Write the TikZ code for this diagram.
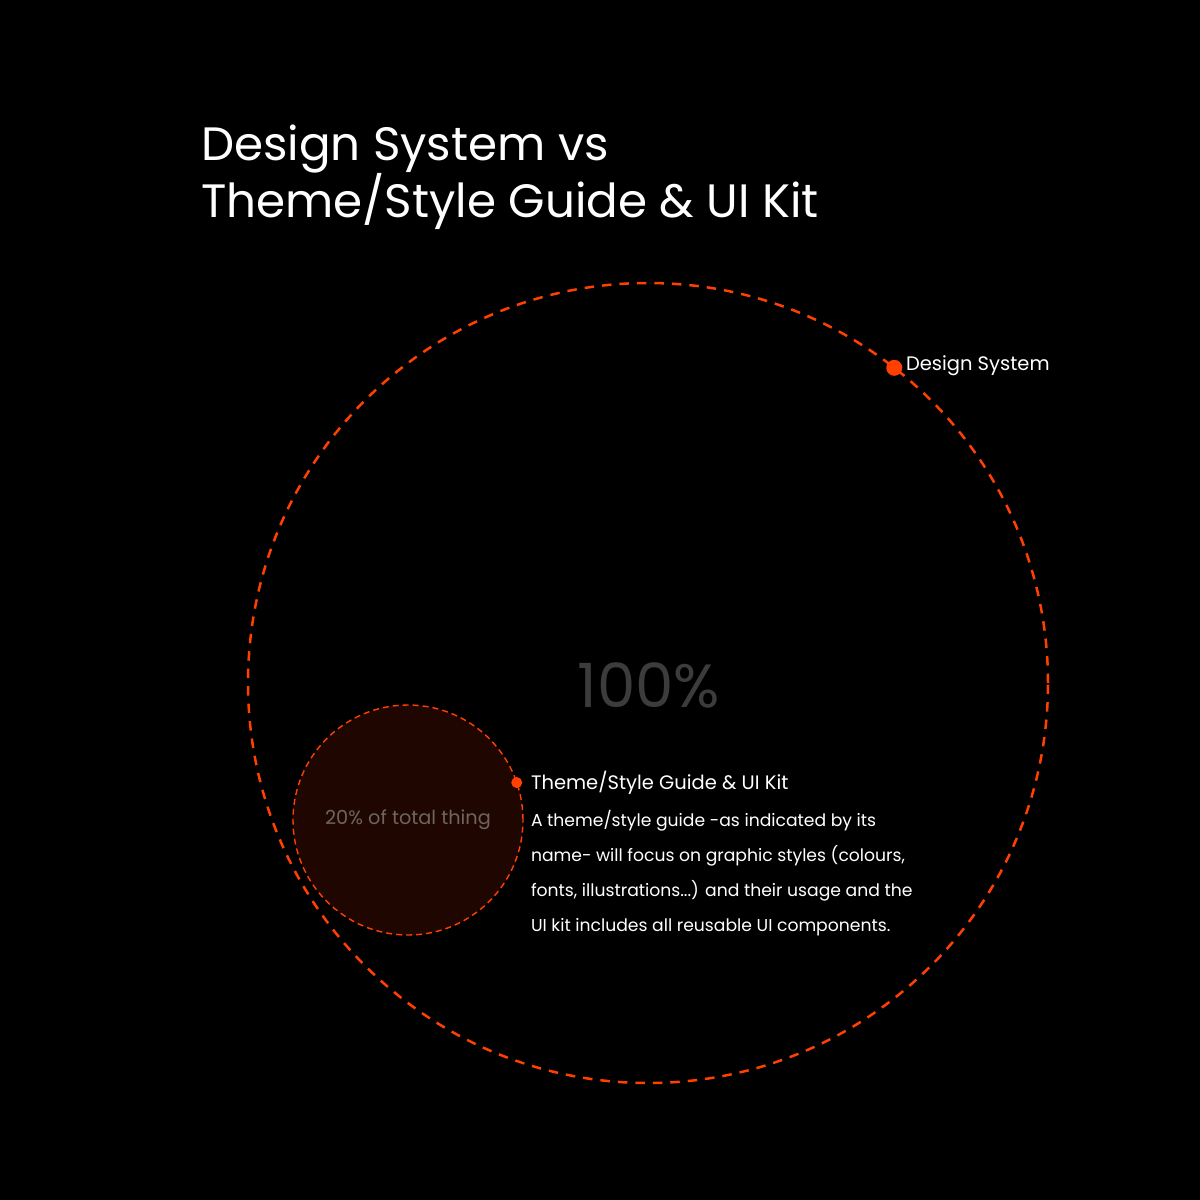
\documentclass[tikz,border=0pt]{standalone}
\usepackage{fontspec}
\setmainfont{Poppins}
\definecolor{accent}{HTML}{FF4000}
\definecolor{innerfill}{HTML}{200600}
\definecolor{bigpct}{HTML}{3C3C3C}
\definecolor{smallpct}{HTML}{6E6460}
\begin{document}
\begin{tikzpicture}[x=1pt,y=1pt,
  every node/.style={inner sep=0pt,outer sep=0pt},
  ring/.style={circle,draw=accent,dash pattern=on 9.5pt off 8pt,line width=2.5pt},
  innerring/.style={circle,draw=accent,fill=innerfill,dash pattern=on 6pt off 4pt,line width=1.4pt},
  dot/.style={circle,fill=accent},
  title/.style={anchor=base west,text=white,font=\fontsize{46.8}{50}\selectfont},
  label/.style={anchor=base west,text=white,font=\fontsize{19.5}{22}\selectfont},
  para/.style={anchor=base west,text=white,font=\fontsize{17.2}{20}\selectfont}]
% canvas
\fill[black] (0,0) rectangle (1200,-1200);
\useasboundingbox (0,0) rectangle (1200,-1200);
% heading
\node[title] (t1) at (201,-160) {Design System vs};
\node[title] (t2) at (201,-217) {Theme/Style Guide \& UI Kit};
% outer ring: the whole design system
\node[ring,minimum size=800pt] (ds) at (648,-683) {};
\node[text=bigpct,font=\fontsize{61}{64}\selectfont] (pct) at (649,-685) {100\%};
% inner disc: theme/style guide and UI kit
\node[innerring,minimum size=230pt] (ui) at (408,-820) {};
\node[text=smallpct,font=\fontsize{19.3}{22}\selectfont] (part) at (ui.center) {20\% of total thing};
% markers on the rings
\node[dot,minimum size=16pt] (dsdot) at (ds.52.9) {};
\node[dot,minimum size=11pt] (uidot) at (ui.19) {};
% labels
\node[label] (dslabel) at (906,-370) {Design System};
\node[label] (uilabel) at (531,-789) {Theme/Style Guide \& UI Kit};
\node[para] (p1) at (531,-826) {A theme/style guide -as indicated by its};
\node[para] (p2) at (531,-861) {name- will focus on graphic styles (colours,};
\node[para] (p3) at (531,-896) {fonts, illustrations...) and their usage and the};
\node[para] (p4) at (531,-931) {UI kit includes all reusable UI components.};
\end{tikzpicture}
\end{document}
